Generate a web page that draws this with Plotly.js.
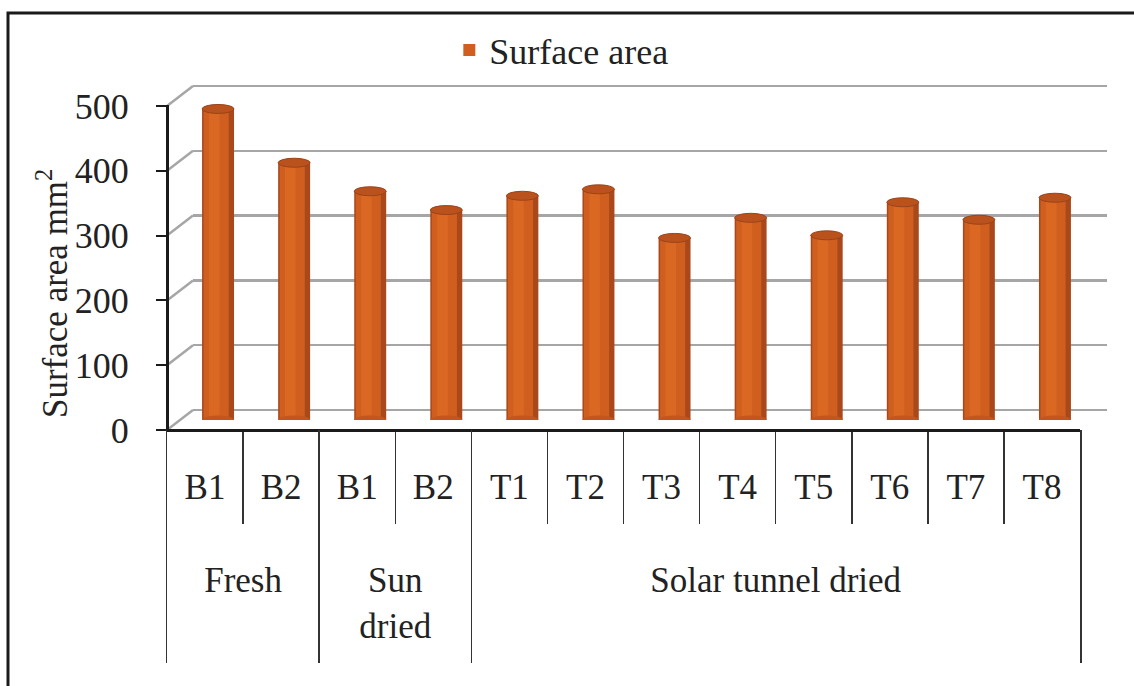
<!DOCTYPE html>
<html>
<head>
<meta charset="utf-8">
<script src="https://cdn.plot.ly/plotly-3.0.1.min.js"></script>
<style>html,body{margin:0;padding:0;background:#fff;}#chart{width:1134px;height:686px;}</style>
</head>
<body>
<div id="chart"></div>
<script>
// ---- data ----
const categories = ['B1','B2','B1','B2','T1','T2','T3','T4','T5','T6','T7','T8'];
const groups = ['Fresh','Sun<br>dried','Solar tunnel dried'];
const groupSizes = [2, 2, 8];
const surfaceArea = [480, 397, 353, 324, 346, 356, 281, 312, 285, 336, 309, 343];
const yTicks = [0, 100, 200, 300, 400, 500];
const seriesName = 'Surface area';
const yTitle = 'Surface area mm<sup>2</sup>';

// ---- geometry helpers (pixels -> paper) ----
const W = 1134, H = 686;
const px = x => x / W;
const py = y => 1 - y / H;
const yMax = 500;
const FRONT = {left: 167, right: 1080, y0: 430, yTop: 106};
const BACK = {left: 193, right: 1107, y0: 410, yTop: 86};
const MID = {left: 180, right: 1093, y0: 420, yTop: 96};
function yDom(p0, pTop, lo, hi) {
  const f = v => p0 + (pTop - p0) * v / yMax;
  return [py(f(lo)), py(f(hi))];
}
const FONT = 'Liberation Serif, Times New Roman, serif';
const TXT = '#222';
const idx = categories.map((_, i) => i);

// group centres / boundaries
const groupCenters = [], groupBounds = [];
let start = 0;
groupSizes.forEach((s, k) => {
  groupCenters.push(start + s / 2 - 0.5);
  if (k > 0) groupBounds.push(start - 0.5);
  start += s;
});
const catBounds = idx.slice(1).map(i => i - 0.5);

const traces = [
  {type: 'scatter', x: [], y: [], xaxis: 'x', yaxis: 'y', showlegend: false, hoverinfo: 'skip'},
  {type: 'bar', x: idx, y: surfaceArea, xaxis: 'x2', yaxis: 'y2', width: 0.42, offset: -0.21,
   marker: {color: '#a9491b', line: {width: 0}}, showlegend: false, hoverinfo: 'skip'},
  {type: 'bar', x: idx, y: surfaceArea, xaxis: 'x2', yaxis: 'y2', width: 0.33, offset: -0.19,
   marker: {color: '#cf5e1f', line: {width: 0}}, name: seriesName, showlegend: true, hoverinfo: 'skip'},
  {type: 'bar', x: idx, y: surfaceArea, xaxis: 'x2', yaxis: 'y2', width: 0.14, offset: -0.12,
   marker: {color: '#da6823', line: {width: 0}}, showlegend: false, hoverinfo: 'skip'},
  {type: 'scatter', x: [], y: [], xaxis: 'x2', yaxis: 'y5', showlegend: false, hoverinfo: 'skip'},
  {type: 'scatter', x: [], y: [], xaxis: 'x3', yaxis: 'y3', showlegend: false, hoverinfo: 'skip'},
  {type: 'scatter', x: [], y: [], xaxis: 'x4', yaxis: 'y4', showlegend: false, hoverinfo: 'skip'}
];

const shapes = [];
// outer frame
shapes.push({type: 'rect', xref: 'paper', yref: 'paper', x0: px(8), y0: py(13), x1: 1.05, y1: -0.05,
  line: {color: '#1a1a1a', width: 3}, fillcolor: 'rgba(0,0,0,0)', layer: 'below'});
// side-wall diagonals from front ticks to back gridlines
const k = (FRONT.y0 - FRONT.yTop) / yMax;
yTicks.forEach(v => {
  shapes.push({type: 'line', xref: 'paper', yref: 'paper',
    x0: px(FRONT.left), y0: py(FRONT.y0 - k * v), x1: px(BACK.left), y1: py(BACK.y0 - k * v),
    line: {color: '#a6a6a6', width: 2.5}, layer: 'below'});
});
// cylinder caps
surfaceArea.forEach((v, i) => {
  shapes.push({type: 'circle', xref: 'x2', yref: 'y2', x0: i - 0.21, x1: i + 0.21,
    ysizemode: 'pixel', yanchor: 0, y0: -4.5, y1: 4.5,
    fillcolor: '#c2561d', line: {width: 0}});
  shapes.push({type: 'circle', xref: 'x2', yref: 'y2', x0: i - 0.21, x1: i + 0.21,
    ysizemode: 'pixel', yanchor: v, y0: -4.5, y1: 4.5,
    fillcolor: '#b9521c', line: {color: '#9c431a', width: 1}});
});

const layout = {
  width: W, height: H,
  margin: {l: 0, r: 0, t: 0, b: 0, pad: 0},
  paper_bgcolor: '#fff', plot_bgcolor: 'rgba(0,0,0,0)',
  barmode: 'overlay',
  hovermode: false,
  font: {family: FONT, color: TXT, size: 34},
  showlegend: true,
  legend: {orientation: 'h', x: 0.495, xanchor: 'center', y: py(50), yanchor: 'middle',
    font: {family: FONT, size: 36, color: TXT}, bgcolor: 'rgba(0,0,0,0)'},
  // back wall gridlines
  xaxis: {domain: [px(BACK.left), px(BACK.right)], range: [0, 1], visible: false},
  yaxis: {anchor: 'x', domain: yDom(BACK.y0, BACK.yTop, -3, 503), range: [-3, 503], tickvals: yTicks,
    showgrid: true, gridcolor: '#a6a6a6', gridwidth: 2.5, showticklabels: false, ticks: '',
    zeroline: false, showline: false},
  // bars
  xaxis2: {anchor: 'y2', domain: [px(MID.left), px(MID.right)], range: [-0.5, 11.5], visible: false},
  yaxis2: {anchor: 'x2', domain: yDom(MID.y0, MID.yTop, 0, 500), range: [0, 500], visible: false},
  // front value axis
  yaxis5: {domain: yDom(FRONT.y0, FRONT.yTop, -2, 502), range: [-2, 502], anchor: 'free',
    position: px(FRONT.left), side: 'left', showline: true, linecolor: '#1a1a1a', linewidth: 2.5,
    ticks: 'outside', ticklen: 10, tickwidth: 2, tickcolor: '#1a1a1a', tickvals: yTicks,
    tickfont: {family: FONT, size: 36, color: TXT}, ticklabelstandoff: 20,
    showgrid: false, zeroline: false},
  // category row
  xaxis3: {domain: [px(FRONT.left), px(FRONT.right)], range: [-0.5, 11.5], anchor: 'free',
    position: py(FRONT.y0), side: 'bottom', showline: true, linecolor: '#1a1a1a', linewidth: 3,
    tickvals: idx, ticktext: categories, ticks: '', ticklabelstandoff: 25,
    tickfont: {family: FONT, size: 35, color: TXT}, showgrid: false, zeroline: false,
    minor: {tickvals: catBounds, showgrid: true, gridcolor: '#333', gridwidth: 1.5, ticks: ''}},
  yaxis3: {anchor: 'x3', domain: [py(524), py(FRONT.y0)], range: [0, 1], visible: false},
  // group row
  xaxis4: {domain: [px(FRONT.left), px(FRONT.right)], range: [-0.5, 11.5], anchor: 'free',
    position: py(FRONT.y0), side: 'bottom', showline: false,
    tickvals: groupCenters, ticktext: groups, ticks: '', ticklabelstandoff: 126,
    tickfont: {family: FONT, size: 35, color: TXT}, showgrid: false, zeroline: false,
    minor: {tickvals: groupBounds, showgrid: true, gridcolor: '#333', gridwidth: 1.5, ticks: ''}},
  yaxis4: {anchor: 'x4', domain: [py(663), py(FRONT.y0)], range: [0, 1], showline: true, mirror: true,
    linecolor: '#333', linewidth: 1.5, showticklabels: false, ticks: '', showgrid: false, zeroline: false},
  shapes: shapes,
  annotations: [{text: yTitle, xref: 'paper', yref: 'paper', x: px(52), y: py(294),
    xanchor: 'center', yanchor: 'middle', textangle: -90, showarrow: false,
    font: {family: FONT, size: 35, color: TXT}}]
};

Plotly.newPlot('chart', traces, layout, {displayModeBar: false, staticPlot: true});
</script>
</body>
</html>
